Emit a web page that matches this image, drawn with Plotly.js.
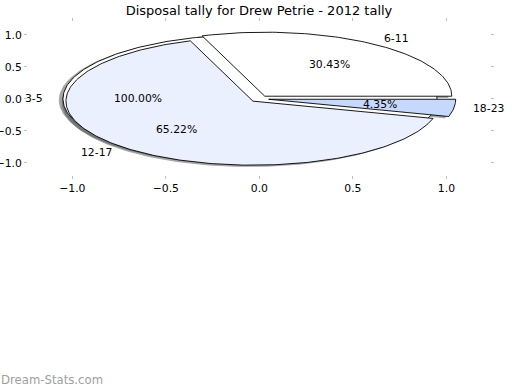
<!DOCTYPE html>
<html>
<head>
<meta charset="utf-8">
<script src="https://cdn.plot.ly/plotly-3.0.1.min.js"></script>
<style>html,body{margin:0;padding:0;background:#fff}#chart{width:520px;height:390px}</style>
</head>
<body>
<div id="chart"></div>
<script>
// ---- data ----
const categories = ['6-11', '12-17', '18-23'];
const counts = [7, 15, 1];
const baseCategories = ['3-5'];
const baseCounts = [1];
const tickValues = [-1.0, -0.5, 0.0, 0.5, 1.0];
const titleText = 'Disposal tally for Drew Petrie - 2012 tally';
const watermarkText = 'Dream-Stats.com';

// ---- styles ----
const sliceColors = ['#FFFFFF', '#EAF0FD', '#C6D8FC'];
const baseColors = ['#FFFFFF'];
const explode = 0.05;
const shadowDx = -0.02, shadowDy = -0.02;
const labelDist = 1.1, pctDist = 0.6;
const FONT = 'DejaVu Sans, sans-serif';
const TXT = 10.8;

function buildPie(cats, vals, colors) {
  const total = vals.reduce((a, b) => a + b, 0);
  let start = 0;
  return cats.map((c, i) => {
    const frac = vals[i] / total;
    const t1 = start, t2 = start + 360 * frac;
    start = t2;
    const mid = (t1 + t2) / 2 * Math.PI / 180;
    const cx = explode * Math.cos(mid), cy = explode * Math.sin(mid);
    const full = Math.abs(t2 - t1 - 360) < 1e-9;
    const n = Math.max(8, Math.ceil((t2 - t1) / 1));
    const xs = [], ys = [];
    for (let k = 0; k <= n; k++) {
      const a = (t1 + (t2 - t1) * k / n) * Math.PI / 180;
      xs.push(cx + Math.cos(a)); ys.push(cy + Math.sin(a));
    }
    if (!full) { xs.push(cx); ys.push(cy); xs.push(xs[0]); ys.push(ys[0]); }
    return {cat: c, frac, mid, cx, cy, xs, ys, color: colors[i]};
  });
}

const base = buildPie(baseCategories, baseCounts, baseColors);
const main = buildPie(categories, counts, sliceColors);
const allSlices = base.concat(main);

function darken(hex) {
  const r = parseInt(hex.slice(1, 3), 16), g = parseInt(hex.slice(3, 5), 16), b = parseInt(hex.slice(5, 7), 16);
  return 'rgb(' + Math.round(r * 0.3) + ',' + Math.round(g * 0.3) + ',' + Math.round(b * 0.3) + ')';
}

const traces = [];
allSlices.forEach(s => {
  const dc = darken(s.color);
  traces.push({
    type: 'scatter', mode: 'lines', x: s.xs.map(v => v + shadowDx), y: s.ys.map(v => v + shadowDy),
    fill: 'toself', fillcolor: dc, line: {color: dc, width: 0.9}, opacity: 0.5,
    hoverinfo: 'skip', showlegend: false
  });
});
allSlices.forEach(s => {
  traces.push({
    type: 'scatter', mode: 'lines', x: s.xs, y: s.ys,
    fill: 'toself', fillcolor: s.color, line: {color: '#000', width: 0.9},
    hoverinfo: 'skip', showlegend: false
  });
});

const annotations = [];
allSlices.forEach(s => {
  const lx = s.cx + labelDist * Math.cos(s.mid), ly = s.cy + labelDist * Math.sin(s.mid);
  annotations.push({
    x: lx, y: ly, xref: 'x', yref: 'y', text: s.cat, showarrow: false,
    xanchor: lx > 0 ? 'left' : 'right', yanchor: 'middle', borderpad: 0,
    font: {family: FONT, size: TXT, color: '#000'}
  });
  const px = s.cx + pctDist * Math.cos(s.mid), py = s.cy + pctDist * Math.sin(s.mid);
  annotations.push({
    x: px, y: py, xref: 'x', yref: 'y', text: (s.frac * 100).toFixed(2) + '%', showarrow: false,
    xanchor: 'center', yanchor: 'middle', borderpad: 0,
    font: {family: FONT, size: TXT, color: '#000'}
  });
});
annotations.push({
  x: 0 - 28 / 462, y: -(388 - 175) / 153, xref: 'paper', yref: 'paper', text: watermarkText, showarrow: false,
  xanchor: 'left', yanchor: 'bottom', borderpad: 0,
  font: {family: FONT, size: 11.7, color: '#a0a0a0'}
});

const axisCommon = {
  showgrid: false, zeroline: false, showline: false,
  ticks: 'outside', ticklen: 3, tickwidth: 1, tickcolor: '#c0c0c0', mirror: 'ticks',
  tickvals: tickValues, tickformat: '.1f', tickfont: {family: FONT, size: TXT, color: '#000'},
  fixedrange: true
};

const layout = {
  width: 520, height: 390,
  margin: {l: 28, r: 30, t: 22, b: 215, pad: 0},
  paper_bgcolor: '#fff', plot_bgcolor: '#fff',
  title: {text: titleText, font: {family: FONT, size: 13, color: '#000'},
          x: 0.5, xref: 'paper', xanchor: 'center', y: 1 - 10.5 / 390, yref: 'container', yanchor: 'middle'},
  xaxis: Object.assign({range: [-1.237, 1.233]}, axisCommon),
  yaxis: Object.assign({range: [-1.19, 1.2]}, axisCommon),
  annotations: annotations,
  showlegend: false
};

Plotly.newPlot('chart', traces, layout, {staticPlot: true, displayModeBar: false});
</script>
</body>
</html>
